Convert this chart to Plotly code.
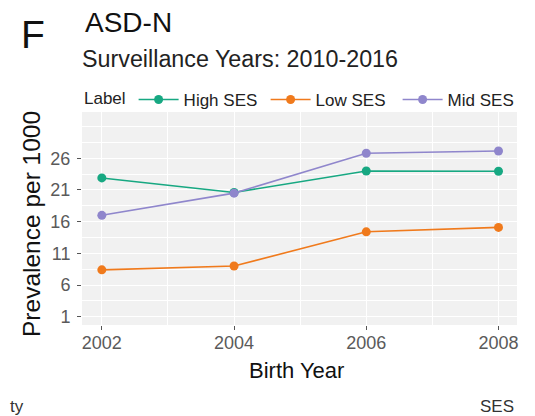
import plotly.graph_objects as go

# Prevalence per 1000 by birth year and SES group
birth_years = [2002, 2004, 2006, 2008]
high_ses = [22.9, 20.6, 24.0, 23.95]
low_ses = [8.4, 9.0, 14.4, 15.1]
mid_ses = [17.0, 20.5, 26.8, 27.15]

series_names = ["High SES", "Low SES", "Mid SES"]
series_values = [high_ses, low_ses, mid_ses]
series_colors = ["#17A882", "#F07A1C", "#8F86CC"]

y_ticks = [1, 6, 11, 16, 21, 26]

FONT = "Liberation Sans, Arial, sans-serif"

W, H = 535, 416
ML, MR, MT, MB = 82, 18, 112, 91
PW, PH = W - ML - MR, H - MT - MB


def px(x):
    return (x - ML) / PW


def py(y):
    return (H - MB - y) / PH


fig = go.Figure()
for name, vals, col in zip(series_names, series_values, series_colors):
    fig.add_trace(go.Scatter(
        x=birth_years, y=vals, name=name, mode="lines+markers",
        line=dict(color=col, width=1.6),
        marker=dict(color=col, size=9),
    ))

axis_common = dict(
    showline=False, zeroline=False,
    ticks="outside", ticklen=4, tickwidth=1, tickcolor="#555555",
    tickfont=dict(family=FONT, size=18, color="#5a5a5a"),
    gridcolor="#ffffff", gridwidth=1.4,
)

fig.update_xaxes(
    range=[2001.7, 2008.28], tickvals=birth_years,
    minor=dict(dtick=1, tick0=2001, showgrid=True, gridcolor="#ffffff", gridwidth=0.7, ticks=""),
    ticklabelstandoff=-3,
    **axis_common,
)
fig.update_yaxes(
    range=[-0.3, 33.3], tickvals=y_ticks,
    minor=dict(tickvals=[-1.5, 3.5, 8.5, 13.5, 18.5, 23.5, 28.5, 31], showgrid=True,
               gridcolor="#ffffff", gridwidth=0.7, ticks=""),
    ticklabelstandoff=3,
    **axis_common,
)

annotations = [
    dict(text="F", x=px(19), y=py(34), xanchor="left", yanchor="middle",
         font=dict(family=FONT, size=39, color="#111111")),
    dict(text="ASD-N", x=px(83), y=py(23), xanchor="left", yanchor="middle",
         font=dict(family=FONT, size=28, color="#111111")),
    dict(text="Surveillance Years: 2010-2016", x=px(80), y=py(59), xanchor="left", yanchor="middle",
         font=dict(family=FONT, size=23.3, color="#222222")),
    dict(text="Birth Year", x=px(296), y=py(370), xanchor="center", yanchor="middle",
         font=dict(family=FONT, size=22, color="#111111")),
    dict(text="Prevalence per 1000", x=px(31), y=py(224), xanchor="center", yanchor="middle",
         textangle=-90, font=dict(family=FONT, size=24.5, color="#111111")),
    dict(text="ty", x=px(26), y=py(406), xanchor="right", yanchor="middle",
         font=dict(family=FONT, size=17, color="#333333")),
    dict(text="SES", x=px(516), y=py(406), xanchor="right", yanchor="middle",
         font=dict(family=FONT, size=17, color="#333333")),
]
for a in annotations:
    a.update(xref="paper", yref="paper", showarrow=False)

fig.update_layout(
    width=W, height=H,
    margin=dict(l=ML, r=MR, t=MT, b=MB),
    paper_bgcolor="#ffffff",
    plot_bgcolor="#F1F1F1",
    font=dict(family=FONT),
    annotations=annotations,
    showlegend=True,
    legend=dict(
        orientation="h", x=px(82), y=py(100), xanchor="left", yanchor="middle",
        title=dict(text="Label", font=dict(family=FONT, size=17, color="#222222")),
        font=dict(family=FONT, size=17, color="#222222"),
        bgcolor="rgba(0,0,0,0)", itemwidth=40, entrywidth=77,
    ),
)

fig.write_html("out.html")
